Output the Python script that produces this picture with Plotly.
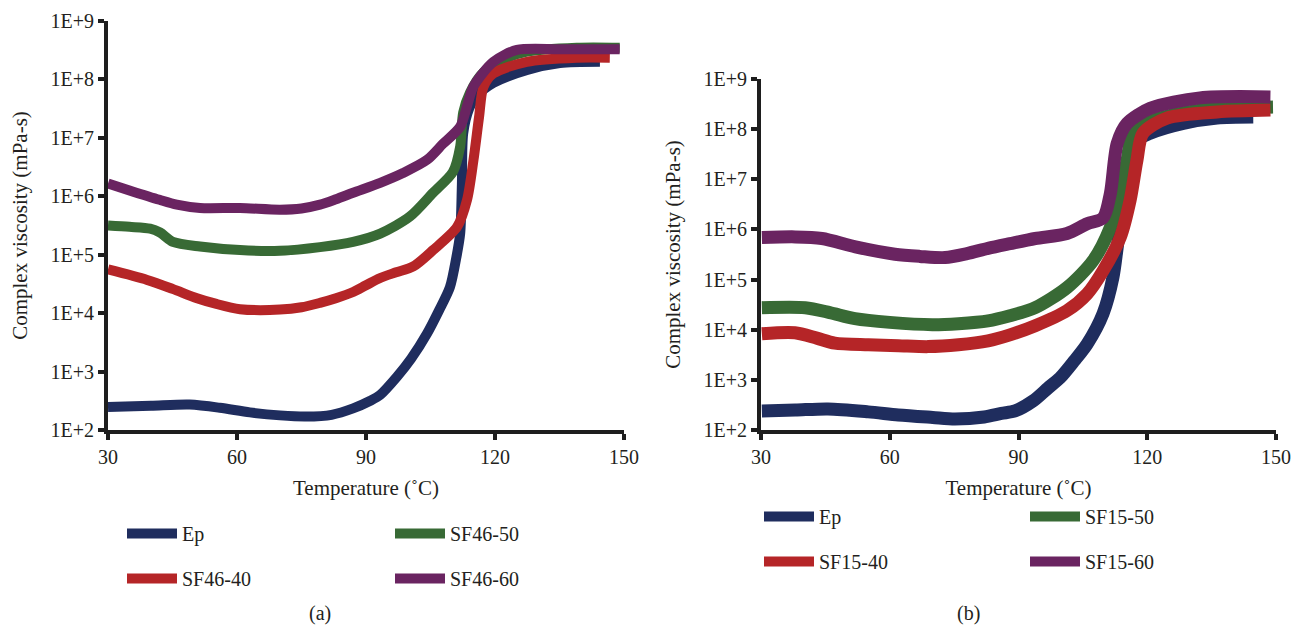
import plotly.graph_objects as go

# Complex viscosity (mPa-s) versus temperature (°C)

# ---- panel (a): SF46 series ----
a_ep_t = [30, 40, 49, 56, 63, 70, 76, 82, 87, 91, 93.3, 97.2, 100.5, 104.2, 107, 109.5,
          111, 111.9, 112.3, 112.6, 114, 115.5, 119.6, 127.5, 135.1, 144.4]
a_ep_v = [248, 260, 272, 240, 200, 178, 170, 182, 234, 316, 398, 813, 1660, 4470, 1.12e4, 2.75e4,
          8.9e4, 2.3e5, 1.6e6, 1.2e7, 3.2e7, 5.0e7, 8.7e7, 1.45e8, 1.9e8, 2.0e8]

a_50_t = [30, 35, 39.8, 42.1, 45.1, 51.4, 60.7, 70, 79.3, 87, 93.3, 100.2, 105.6, 110.2,
          111.9, 112.6, 114.2, 117.2, 121.9, 127.4, 139, 149]
a_50_v = [3.16e5, 3.0e5, 2.8e5, 2.4e5, 1.66e5, 1.38e5, 1.2e5, 1.17e5, 1.35e5, 1.66e5, 2.3e5, 4.5e5,
          1.15e6, 2.6e6, 7.1e6, 2.7e7, 6.0e7, 1.3e8, 2.2e8, 3.0e8, 3.5e8, 3.5e8]

a_40_t = [30, 39.1, 45, 50.7, 55, 60.7, 70, 75, 79.3, 83, 87, 90, 93.3, 97, 101, 105.6, 111.2,
          113.5, 115, 116.3, 117.3, 119.6, 127.4, 139, 146.7]
a_40_v = [5.6e4, 3.7e4, 2.6e4, 1.8e4, 1.45e4, 1.17e4, 1.15e4, 1.26e4, 1.5e4, 1.8e4, 2.3e4, 3.0e4,
          4.0e4, 5.0e4, 6.3e4, 1.2e5, 3.0e5, 8.7e5, 4.2e6, 2.3e7, 7.4e7, 1.26e8, 2.0e8, 2.35e8, 2.35e8]

a_60_t = [30, 35, 42, 46, 51.4, 60.7, 70, 75, 79.3, 83, 87, 93.3, 98.6, 104.2, 107.9, 111.9,
          113.5, 115, 119.6, 125.1, 135.1, 149]
a_60_v = [1.66e6, 1.26e6, 8.7e5, 7.2e5, 6.3e5, 6.3e5, 5.9e5, 6.2e5, 7.2e5, 8.9e5, 1.15e6, 1.7e6,
          2.5e6, 4.2e6, 7.9e6, 1.55e7, 3.5e7, 7.6e7, 2.0e8, 3.2e8, 3.3e8, 3.3e8]

# ---- panel (b): SF15 series ----
b_ep_t = [30.2, 38, 45.6, 55, 62, 70, 75.2, 82, 86, 89.2, 93.4, 96.9, 99.7, 103, 106, 109.7,
          112, 113, 114.5, 116, 118, 120.7, 128.4, 136.3, 144.7]
b_ep_v = [240, 250, 263, 230, 200, 178, 166, 182, 214, 240, 380, 690, 1100, 2400, 5200, 2.1e4,
          1.1e5, 4.4e5, 4.0e6, 2.5e7, 6.3e7, 8.3e7, 1.3e8, 1.66e8, 1.74e8]

b_50_t = [30.2, 40.3, 46, 51.9, 60, 69.9, 76, 82.9, 88, 93.9, 101.3, 107.4, 111.4, 113.7,
          115.3, 116.7, 121.4, 132.3, 149.3]
b_50_v = [2.75e4, 2.75e4, 2.2e4, 1.66e4, 1.4e4, 1.26e4, 1.32e4, 1.5e4, 1.9e4, 2.75e4, 6.9e4,
          2.4e5, 1.1e6, 5.2e6, 2.4e7, 8.3e7, 1.5e8, 2.4e8, 2.75e8]

b_40_t = [30.2, 37.9, 43, 47.2, 55, 62, 68.9, 76, 82.9, 88, 93.9, 101.3, 106, 109.7, 113.7,
          116, 117.6, 119, 124.6, 136.3, 148.7]
b_40_v = [8.3e3, 8.7e3, 6.8e3, 5.4e3, 5.0e3, 4.8e3, 4.6e3, 5.0e3, 6.0e3, 7.9e3, 1.2e4, 2.4e4,
          5.2e4, 1.5e5, 6.9e5, 3.8e6, 2.4e7, 8.3e7, 1.66e8, 2.2e8, 2.4e8]

b_60_t = [30.2, 38, 44.2, 52, 61.2, 67, 72.9, 78, 82.9, 88, 93.9, 101.3, 106, 109.7, 111.4,
          113, 115.3, 120.7, 132.3, 148.7]
b_60_v = [6.9e5, 7.1e5, 6.6e5, 4.5e5, 3.2e5, 2.9e5, 2.75e5, 3.3e5, 4.2e5, 5.2e5, 6.6e5, 8.3e5,
          1.3e6, 1.7e6, 5.2e6, 5.2e7, 1.3e8, 2.6e8, 4.2e8, 4.4e8]

temp_ticks = [30, 60, 90, 120, 150]
visc_ticks = [1e2, 1e3, 1e4, 1e5, 1e6, 1e7, 1e8, 1e9]
visc_tick_text = ["1E+2", "1E+3", "1E+4", "1E+5", "1E+6", "1E+7", "1E+8", "1E+9"]

COLORS = {"ep": "#1f2d5e", "50": "#386a35", "40": "#b52527", "60": "#6a2461"}
FONT = "Liberation Serif"
INK = "#231f20"
AXIS = "#1e1e1e"

fig = go.Figure()

panels = [
    ("x", "y", 10, "SF46", [(a_ep_t, a_ep_v, "ep"), (a_50_t, a_50_v, "50"),
                            (a_40_t, a_40_v, "40"), (a_60_t, a_60_v, "60")], ("legend", "legend2")),
    ("x2", "y2", 13, "SF15", [(b_ep_t, b_ep_v, "ep"), (b_50_t, b_50_v, "50"),
                              (b_40_t, b_40_v, "40"), (b_60_t, b_60_v, "60")], ("legend3", "legend4")),
]

for xa, ya, lw, prefix, series, (leg_left, leg_right) in panels:
    for t, v, key in series:
        name = "Ep" if key == "ep" else f"{prefix}-{key}"
        leg = leg_left if key in ("ep", "40") else leg_right
        fig.add_trace(go.Scatter(
            x=t, y=v, mode="lines", name=name, xaxis=xa, yaxis=ya,
            line=dict(color=COLORS[key], width=lw, shape="spline", smoothing=0.8),
            legend=leg, legendgroup=f"{prefix}{key}", cliponaxis=False,
        ))

xaxis_common = dict(
    range=[30, 150], tickvals=temp_ticks, showline=True, linecolor=AXIS, linewidth=4,
    ticks="outside", ticklen=6, tickwidth=4, tickcolor=AXIS, showgrid=False, zeroline=False,
    automargin=False, tickfont=dict(family=FONT, size=20, color=INK),
    title=dict(text="Temperature (˚C)", font=dict(family=FONT, size=21, color=INK), standoff=14),
)
yaxis_common = dict(
    type="log", range=[2, 9], tickvals=visc_ticks, ticktext=visc_tick_text, showline=True,
    linecolor=AXIS, linewidth=4, ticks="outside", ticklen=6, tickwidth=4, tickcolor=AXIS,
    showgrid=False, zeroline=False, automargin=False,
    tickfont=dict(family=FONT, size=20, color=INK),
    title=dict(text="Complex viscosity (mPa-s)", font=dict(family=FONT, size=21, color=INK),
               standoff=18),
)

legend_common = dict(
    orientation="v", bgcolor="rgba(0,0,0,0)", borderwidth=0, itemwidth=50,
    tracegroupgap=16, font=dict(family=FONT, size=20, color=INK),
    xanchor="left", yanchor="top", itemclick=False, itemdoubleclick=False,
)

W, H = 1302, 626
fig.update_layout(
    width=W, height=H, margin=dict(l=0, r=0, t=0, b=0, autoexpand=False),
    paper_bgcolor="white", plot_bgcolor="white",
    xaxis=dict(domain=[108 / W, 624 / W], anchor="y", **xaxis_common),
    yaxis=dict(domain=[1 - 430 / H, 1 - 21 / H], anchor="x", **yaxis_common),
    xaxis2=dict(domain=[761 / W, 1276 / W], anchor="y2", **xaxis_common),
    yaxis2=dict(domain=[1 - 430 / H, 1 - 79 / H], anchor="x2", **yaxis_common),
    legend=dict(x=122 / W, y=1 - 514 / H, **legend_common),
    legend2=dict(x=390 / W, y=1 - 514 / H, **legend_common),
    legend3=dict(x=759 / W, y=1 - 497 / H, **legend_common),
    legend4=dict(x=1025 / W, y=1 - 497 / H, **legend_common),
    annotations=[
        dict(text="(a)", x=320 / W, y=1 - 613 / H, xref="paper", yref="paper",
             xanchor="center", yanchor="middle", showarrow=False,
             font=dict(family=FONT, size=20, color=INK)),
        dict(text="(b)", x=968 / W, y=1 - 613 / H, xref="paper", yref="paper",
             xanchor="center", yanchor="middle", showarrow=False,
             font=dict(family=FONT, size=20, color=INK)),
    ],
    showlegend=True,
)

fig.write_html("out.html")
